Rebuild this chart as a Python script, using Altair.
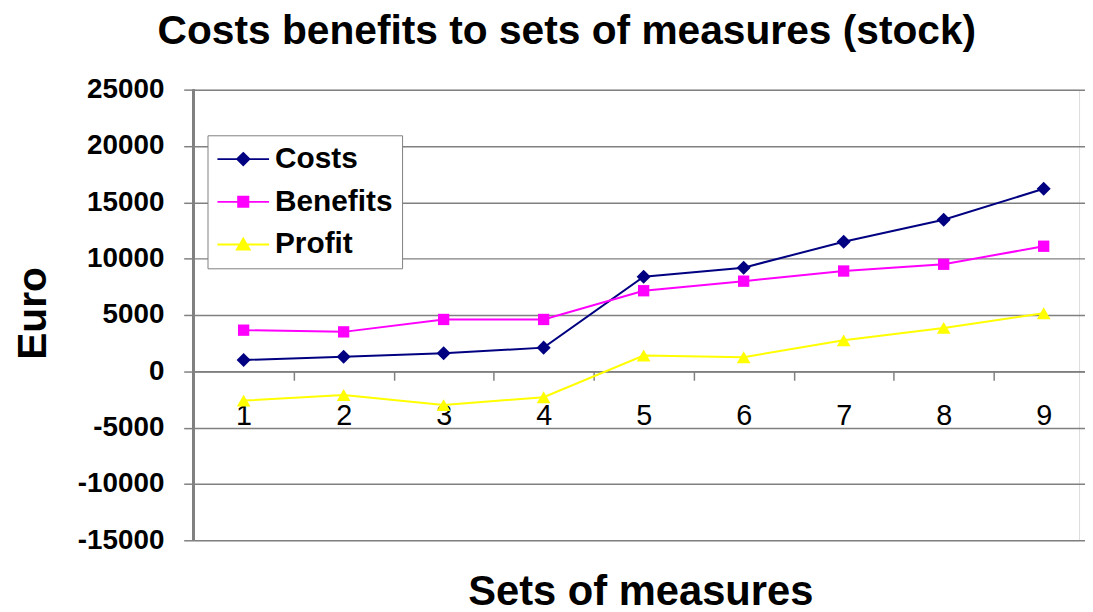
import altair as alt
import pandas as pd

# ---- data ----
sets = [1, 2, 3, 4, 5, 6, 7, 8, 9]
costs = [1000, 1300, 1600, 2100, 8400, 9200, 11500, 13450, 16200]
benefits = [3650, 3500, 4600, 4600, 7150, 8000, 8900, 9500, 11100]
profit = [-2600, -2100, -3000, -2300, 1400, 1250, 2750, 3850, 5150]
series_names = ["Costs", "Benefits", "Profit"]
series_colors = ["#000080", "#FF00FF", "#FFFF00"]
series_shapes = ["diamond", "square", "triangle-up"]
y_ticks = [-15000, -10000, -5000, 0, 5000, 10000, 15000, 20000, 25000]

rows = []
for name, vals in zip(series_names, [costs, benefits, profit]):
    for s, v in zip(sets, vals):
        rows.append({"set": s, "series": name, "value": v})
df = pd.DataFrame(rows)

# ---- styling ----
FONT = "Liberation Sans"
GRID = "#808080"
W, H = 892, 454
STEP = 100.75
Y_MIN, Y_MAX = -15000, 25000
ZERO_PX = H * Y_MAX / (Y_MAX - Y_MIN)
AXIS_OFFSET = -(H - ZERO_PX)

# legend symbols: a short line with the series marker on it
legend_paths = [
    "M-2,0L2,0M0,-0.48L0.48,0L0,0.48L-0.48,0Z",
    "M-2,0L2,0M-0.4,-0.4L0.4,-0.4L0.4,0.4L-0.4,0.4Z",
    "M-2,0L2,0M0,-0.46L0.5,0.4L-0.5,0.4Z",
]

x_enc = alt.X(
    "set:O",
    scale=alt.Scale(type="band", domain=sets, range=[0, STEP * len(sets)],
                    paddingInner=0, paddingOuter=0),
    axis=alt.Axis(
        orient="bottom", tickBand="extent", labelAngle=0, labelFont=FONT,
        labelFontSize=29, labelFontWeight="normal", labelColor="black",
        labelPadding=22, labelAlign="center", labelOverlap=False,
        offset=AXIS_OFFSET, domainColor=GRID, domainWidth=1.5, tickColor=GRID,
        tickWidth=1.5, tickSize=9, grid=False, title="Sets of measures",
        titleFont=FONT, titleFontSize=42, titleFontWeight="bold",
        titleColor="black", titleX=450, titleY=235, titleAlign="center",
        titleBaseline="alphabetic",
    ),
)

y_enc = alt.Y(
    "value:Q",
    scale=alt.Scale(domain=[Y_MIN, Y_MAX], nice=False, zero=False),
    axis=alt.Axis(
        orient="left", values=y_ticks, labelExpr="'' + datum.value",
        labelFont=FONT, labelFontSize=28, labelFontWeight="bold",
        labelColor="black", labelPadding=20, labelOverlap=False,
        domain=False, tickColor=GRID, tickWidth=1.5,
        tickSize=10, grid=True, gridColor=GRID, gridWidth=1.5, title="Euro",
        titleFont=FONT, titleFontSize=41, titleFontWeight="bold",
        titleColor="black", titleAngle=270, titleX=-149, titleY=225,
        titleAlign="center", titleBaseline="alphabetic",
    ),
)

legend_props = dict(
    title=None, orient="none", legendX=14, legendY=46, fillColor="white",
    strokeColor=GRID, padding=9, labelFont=FONT, labelFontSize=30,
    labelFontWeight="bold", labelColor="black", labelOffset=17, labelLimit=400,
    symbolSize=676, symbolStrokeWidth=1.8, symbolOffset=12, symbolOpacity=1,
    rowPadding=13,
)

color_scale = alt.Scale(domain=series_names, range=series_colors)
base = alt.Chart(df)

# left axis line of the plot frame
frame_left = base.mark_rule(color=GRID, strokeWidth=1.5).encode(
    x=alt.value(0), y=alt.value(0), y2=alt.value(H)
)

lines = base.mark_line(strokeWidth=2).encode(
    x=x_enc,
    y=y_enc,
    color=alt.Color("series:N", scale=color_scale, legend=alt.Legend(**legend_props)),
)

point_layers = []
for name, shp, sz in zip(series_names, series_shapes, [200, 130, 190]):
    point_layers.append(
        base.transform_filter(alt.datum.series == name)
        .mark_point(filled=True, shape=shp, size=sz, opacity=1)
        .encode(x=x_enc, y=y_enc,
                color=alt.Color("series:N", scale=color_scale, legend=None))
    )

legend_layer = (
    base.mark_point(filled=True, strokeWidth=1.8, opacity=0)
    .encode(
        x=x_enc,
        y=y_enc,
        fill=alt.Fill("series:N", scale=alt.Scale(domain=series_names, range=series_colors),
                      legend=alt.Legend(**legend_props)),
        stroke=alt.Stroke("series:N", scale=alt.Scale(domain=series_names, range=series_colors),
                          legend=alt.Legend(**legend_props)),
        shape=alt.Shape("series:N", scale=alt.Scale(domain=series_names, range=legend_paths),
                        legend=alt.Legend(**legend_props)),
    )
)

chart = (
    alt.layer(lines, *point_layers, legend_layer, frame_left)
    .properties(
        width=W, height=H,
        title=alt.TitleParams(
            text="Costs benefits to sets of measures (stock)", font=FONT,
            fontSize=41, fontWeight="bold", color="black", anchor="middle",
            frame="group", dx=-70, offset=0, dy=9, baseline="alphabetic",
        ),
        padding={"left": 187, "top": 80, "right": 6, "bottom": 70},
        autosize=alt.AutoSizeParams(type="none"),
    )
    .configure_view(strokeWidth=0)
    .configure(background="white")
)

chart.save("out.html", embed_options={"renderer": "svg", "actions": False})
